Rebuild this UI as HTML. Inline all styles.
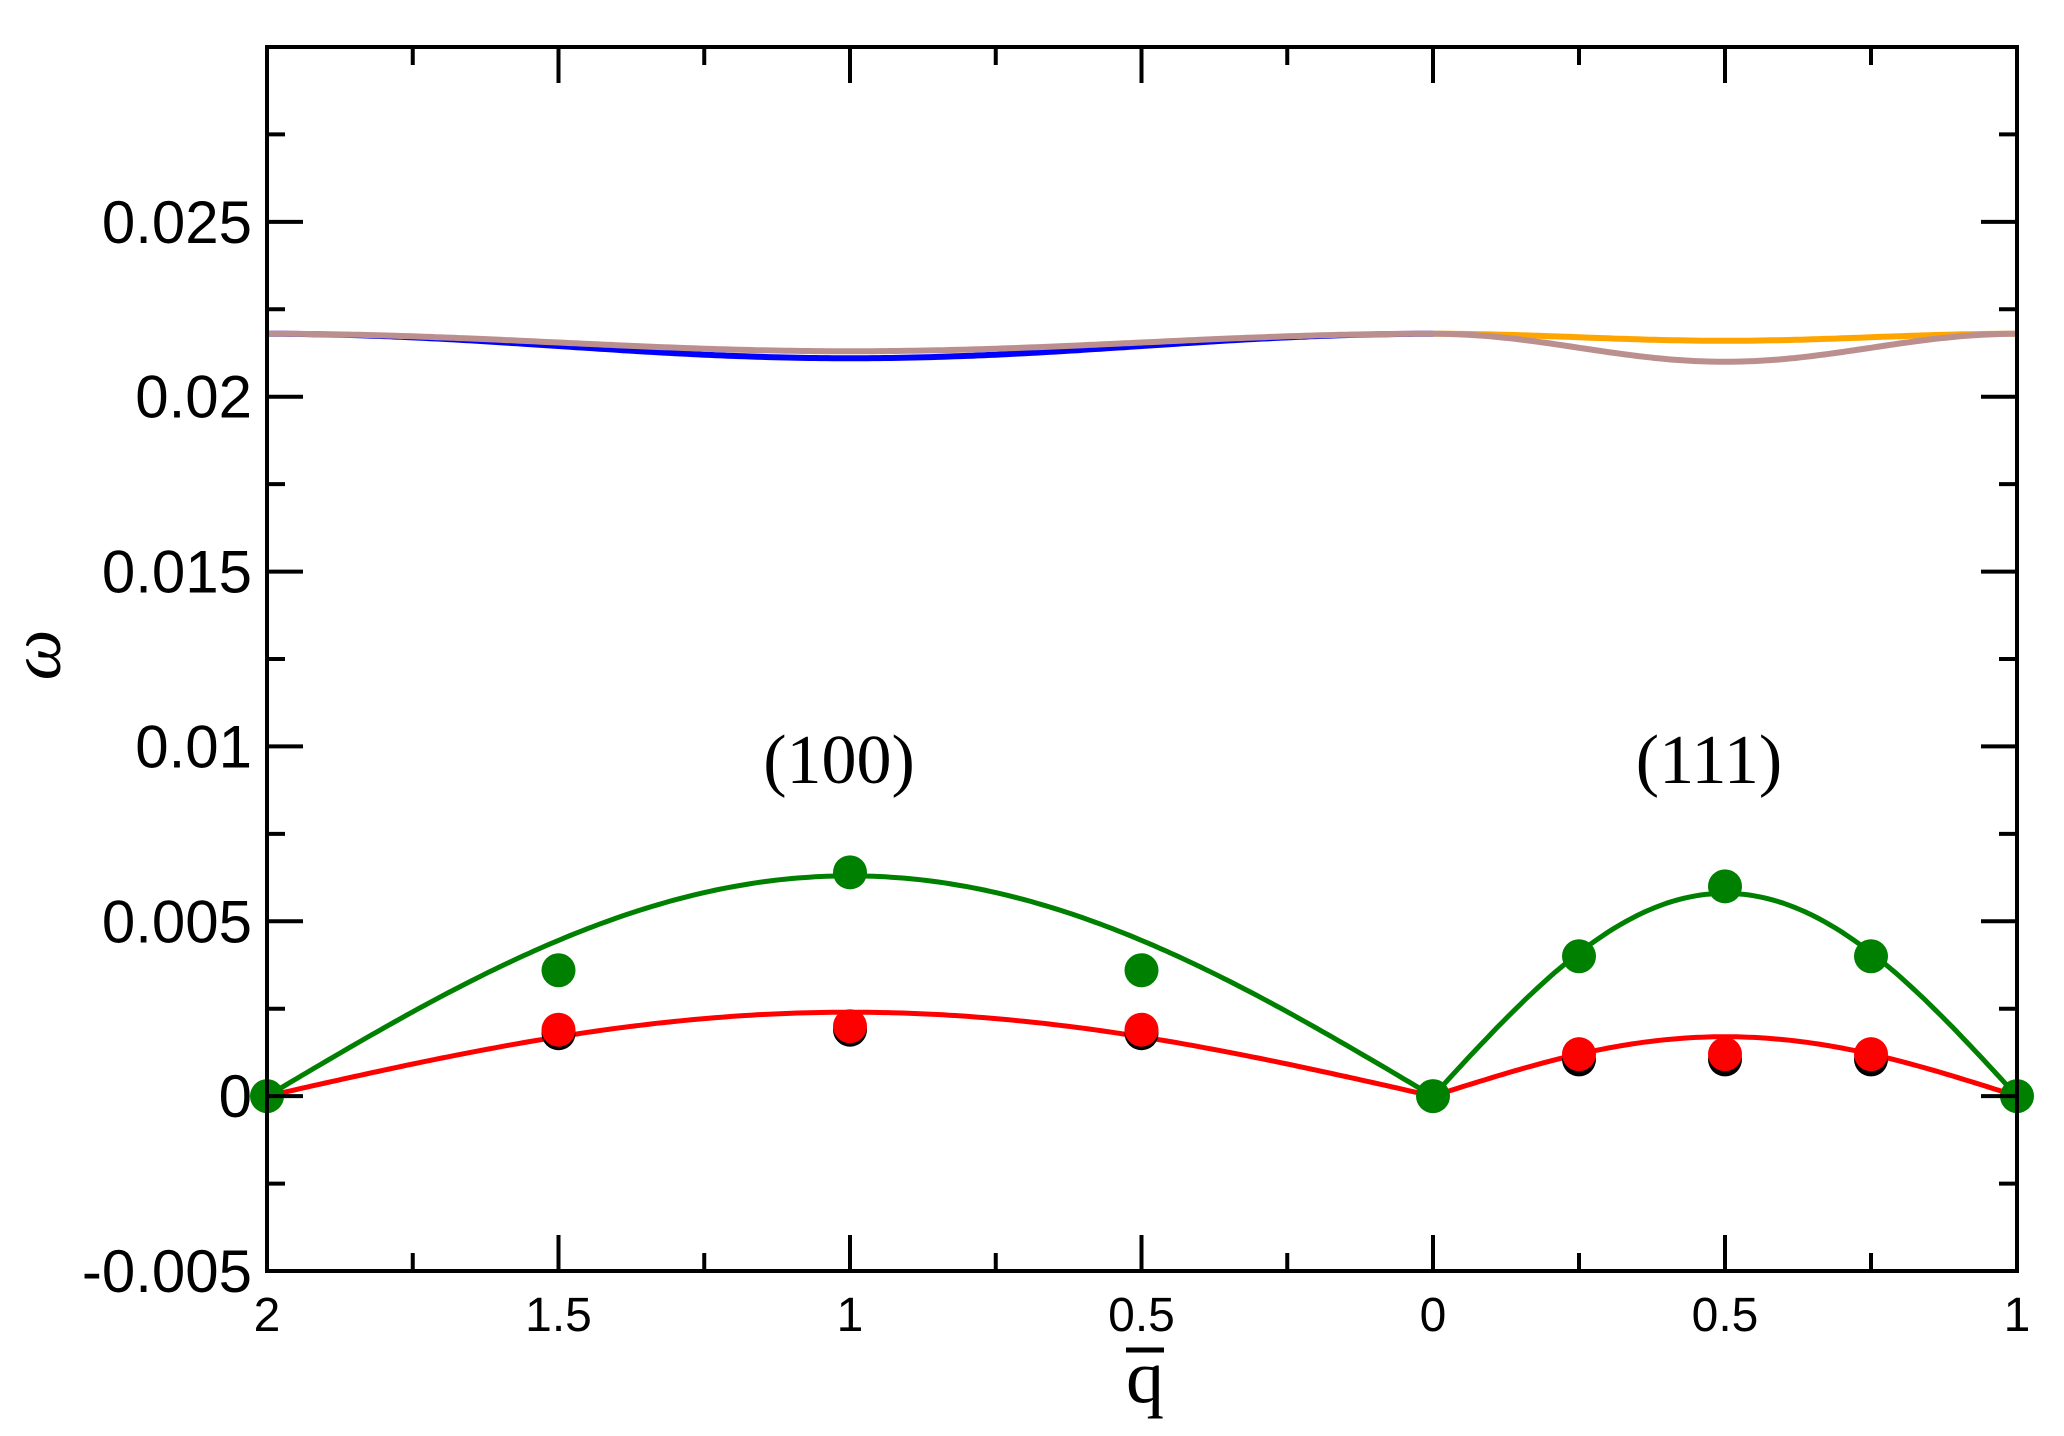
<!DOCTYPE html>
<html><head><style>body{margin:0;background:#fff}svg{display:block}</style></head>
<body>
<svg id="s" width="2064" height="1436" xmlns="http://www.w3.org/2000/svg"></svg>
<script>
const L=267,R=2017,T=47,B=1271,G=1433;
function Y(v){return B-(v+0.005)*(B-T)/0.035;}
function XL(q){return G-(q/2)*(G-L);}
function XR(q){return G+q*(R-G);}
let h='';
function line(x1,y1,x2,y2,c,w){h+=`<line x1="${x1}" y1="${y1}" x2="${x2}" y2="${y2}" stroke="${c}" stroke-width="${w}"/>`;}
function path(pts,c,w){h+=`<polyline fill="none" stroke="${c}" stroke-width="${w}" stroke-linejoin="round" points="${pts.map(p=>p[0].toFixed(1)+','+p[1].toFixed(1)).join(' ')}"/>`;}
function curveL(f){let p=[];for(let i=0;i<=200;i++){let q=2*i/200;p.push([XL(q),Y(f(q))]);}return p;}
function curveR(f){let p=[];for(let i=0;i<=100;i++){let q=i/100;p.push([XR(q),Y(f(q))]);}return p;}
path(curveL(q=>0.0218-0.0007*(1-Math.cos(Math.PI*q))/2),'#0000ff',6);
path(curveR(q=>0.0218-0.0002*(1-Math.cos(2*Math.PI*q))/2),'#ffa500',6);
path(curveL(q=>0.0218-0.0005*(1-Math.cos(Math.PI*q))/2),'#bc8f8f',6);
path(curveR(q=>0.0218-0.0008*(1-Math.cos(2*Math.PI*q))/2),'#bc8f8f',6);
path(curveL(q=>0.0063*Math.sin(Math.PI*q/2)),'#008000',5);
path(curveR(q=>0.0058*Math.sin(Math.PI*q)),'#008000',5);
path(curveL(q=>0.0024*Math.sin(Math.PI*q/2)),'#ff0000',5);
path(curveR(q=>0.0017*Math.sin(Math.PI*q)),'#ff0000',5);
function dot(x,y,c){h+=`<circle cx="${x}" cy="${y}" r="17" fill="${c}"/>`;}
[[1.5,0.0018],[1,0.0019],[0.5,0.0018]].forEach(d=>dot(XL(d[0]),Y(d[1]),'#000'));
[[0.25,0.00105],[0.5,0.00105],[0.75,0.00105]].forEach(d=>dot(XR(d[0]),Y(d[1]),'#000'));
[[1.5,0.0019],[1,0.002],[0.5,0.0019]].forEach(d=>dot(XL(d[0]),Y(d[1]),'#ff0000'));
[[0.25,0.0012],[0.5,0.0012],[0.75,0.0012]].forEach(d=>dot(XR(d[0]),Y(d[1]),'#ff0000'));
[[2,0],[1.5,0.0036],[1,0.0064],[0.5,0.0036],[0,0]].forEach(d=>dot(XL(d[0]),Y(d[1]),'#008000'));
[[0.25,0.004],[0.5,0.006],[0.75,0.004],[1,0]].forEach(d=>dot(XR(d[0]),Y(d[1]),'#008000'));
h+=`<rect x="${L}" y="${T}" width="${R-L}" height="${B-T}" fill="none" stroke="#000" stroke-width="4"/>`;
const xt=[[XL(2),1,'2'],[XL(1.75),0],[XL(1.5),1,'1.5'],[XL(1.25),0],[XL(1),1,'1'],[XL(0.75),0],[XL(0.5),1,'0.5'],[XL(0.25),0],[G,1,'0'],[XR(0.25),0],[XR(0.5),1,'0.5'],[XR(0.75),0],[R,1,'1']];
xt.forEach(t=>{let l=t[1]?36:18;line(t[0],B,t[0],B-l,'#000',4);line(t[0],T,t[0],T+l,'#000',4);
 if(t[2])h+=`<text x="${t[0]}" y="1331" font-size="48" text-anchor="middle" font-family="Liberation Sans,sans-serif">${t[2]}</text>`;});
for(let i=0;i<=14;i++){let v=-0.005+i*0.0025,y=Y(v),maj=i%2==0,l=maj?36:18;
 line(L,y,L+l,y,'#000',4);line(R,y,R-l,y,'#000',4);
 if(maj&&i<14){let s=['-0.005','0','0.005','0.01','0.015','0.02','0.025'][i/2];
 h+=`<text x="252" y="${y+21}" font-size="60" text-anchor="end" font-family="Liberation Sans,sans-serif">${s}</text>`;}}
h+=`<text transform="translate(60,655) rotate(-90)" font-size="72" font-style="italic" text-anchor="middle" font-family="Liberation Serif,serif">ω</text>`;
h+=`<text x="1145" y="1402" font-size="76" text-anchor="middle" font-family="Liberation Serif,serif">q</text>`;
line(1126,1350,1164,1350,'#000',5);
h+=`<text x="839" y="783" font-size="70" text-anchor="middle" font-family="Liberation Serif,serif">(100)</text>`;
h+=`<text x="1709" y="783" font-size="70" text-anchor="middle" font-family="Liberation Serif,serif">(111)</text>`;
document.getElementById('s').innerHTML=h;
</script>
</body></html>
